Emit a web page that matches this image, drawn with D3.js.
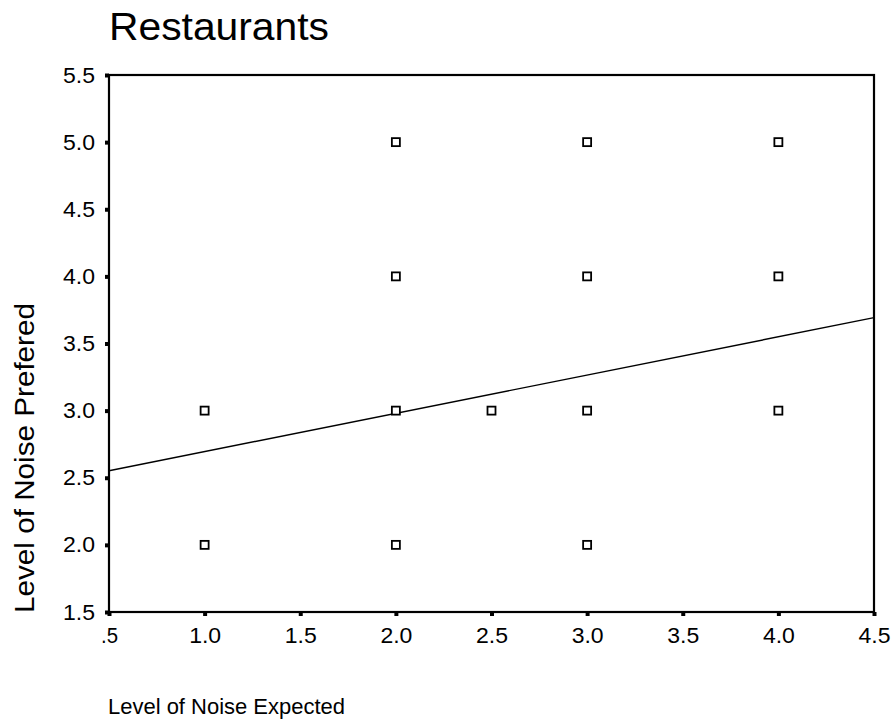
<!DOCTYPE html>
<html><head><meta charset="utf-8">
<script src="https://cdn.jsdelivr.net/npm/d3@7"></script>
<style>body{margin:0;background:#fff}svg{display:block}text{font-family:"Liberation Sans",Arial,sans-serif;fill:#000}</style>
</head><body><svg id="c" width="893" height="727"></svg>
<script>
const xVals = [1, 1, 2, 2, 2, 2, 2.5, 3, 3, 3, 3, 4, 4, 4];
const yVals = [3, 2, 5, 4, 3, 2, 3, 5, 4, 3, 2, 5, 4, 3];
const xTicks = [0.5, 1, 1.5, 2, 2.5, 3, 3.5, 4, 4.5];
const yTicks = [1.5, 2, 2.5, 3, 3.5, 4, 4.5, 5, 5.5];
const fitIntercept = 2.41;
const fitSlope = 0.285;
const title = "Restaurants";
const xLabel = "Level of Noise Expected";
const yLabel = "Level of Noise Prefered";

const svg = d3.select("#c");
const L = 109, R = 874, T = 75, B = 612;
const x = d3.scaleLinear().domain([0.5, 4.5]).range([L, R]);
const y = d3.scaleLinear().domain([1.5, 5.5]).range([B, T]);
const fmt = v => { const s = v.toFixed(1); return s.startsWith("0") ? s.slice(1) : s; };

svg.append("rect").attr("x", L).attr("y", T).attr("width", R - L).attr("height", B - T)
  .attr("fill", "none").attr("stroke", "#000").attr("stroke-width", 2.2);

const xAxis = svg.append("g").attr("transform", `translate(0,${B})`)
  .call(d3.axisBottom(x).tickValues(xTicks).tickFormat(fmt).tickSize(4).tickPadding(11));
const yAxis = svg.append("g").attr("transform", `translate(${L},0)`)
  .call(d3.axisLeft(y).tickValues(yTicks).tickFormat(fmt).tickSize(4).tickPadding(10));
[xAxis, yAxis].forEach(g => {
  g.select(".domain").remove();
  g.selectAll(".tick line").attr("stroke", "#000").attr("stroke-width", 4);
  g.selectAll(".tick text").style("font-size", "22px").attr("fill", "#000")
    .attr("textLength", d => fmt(d).length === 2 ? 17 : 32).attr("lengthAdjust", "spacingAndGlyphs");
});

// regression line
svg.append("line")
  .attr("x1", x(0.5)).attr("y1", y(fitIntercept + fitSlope * 0.5))
  .attr("x2", x(4.5)).attr("y2", y(fitIntercept + fitSlope * 4.5))
  .attr("stroke", "#000").attr("stroke-width", 1.4);

// points
svg.append("g").selectAll("rect").data(xVals.map((v, i) => [v, yVals[i]])).join("rect")
  .attr("x", d => x(d[0]) - 4).attr("y", d => y(d[1]) - 4)
  .attr("width", 8).attr("height", 8)
  .attr("fill", "#fff").attr("stroke", "#000").attr("stroke-width", 1.8);

svg.append("text").attr("x", 109).attr("y", 40).style("font-size", "38px")
  .attr("textLength", 220).attr("lengthAdjust", "spacingAndGlyphs").text(title);
svg.append("text").attr("x", 108).attr("y", 714).style("font-size", "22px")
  .attr("textLength", 237).attr("lengthAdjust", "spacingAndGlyphs").text(xLabel);
svg.append("text").attr("transform", `translate(34,613) rotate(-90)`)
  .style("font-size", "28px")
  .attr("textLength", 310).attr("lengthAdjust", "spacingAndGlyphs").text(yLabel);
</script></body></html>
